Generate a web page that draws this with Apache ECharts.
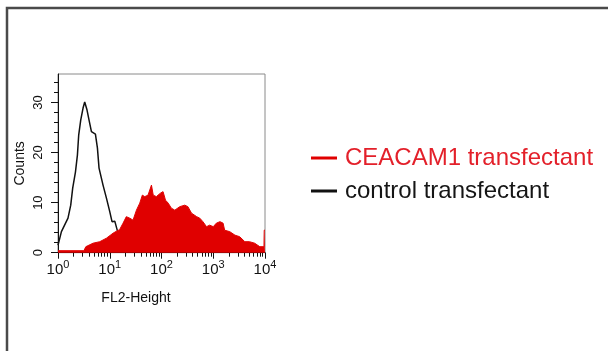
<!DOCTYPE html>
<html>
<head>
<meta charset="utf-8">
<script src="https://cdn.jsdelivr.net/npm/echarts@6/dist/echarts.min.js"></script>
<style>
html,body{margin:0;padding:0;background:#fff;}
#chart{width:608px;height:351px;}
</style>
</head>
<body>
<div id="chart"></div>
<script>
// log10(FL2-Height) positions and counts
var controlX = [0, 0.066, 0.193, 0.246, 0.284, 0.337, 0.375, 0.40, 0.439, 0.484, 0.516, 0.561, 0.60, 0.646, 0.723, 0.762, 0.793, 0.87, 0.936, 1.0, 1.044, 1.097, 1.155, 1.22, 1.3];
var controlY = [1.5, 4.2, 6.9, 9.5, 12.9, 16.1, 19.5, 23.5, 26.5, 28.9, 30.1, 28.5, 26.5, 24.2, 23.7, 20.9, 16.9, 13.5, 10.9, 8.2, 6.2, 6.3, 4.1, 2.0, 0.5];

var ceacamX = [0, 0.5, 0.538, 0.677, 0.807, 0.936, 1.064, 1.13, 1.19, 1.257, 1.32, 1.387, 1.45, 1.516, 1.58, 1.63, 1.677, 1.74, 1.806, 1.84, 1.90, 1.98, 2.03, 2.077, 2.13, 2.19, 2.257, 2.354, 2.45, 2.51, 2.58, 2.61, 2.68, 2.74, 2.80, 2.87, 2.93, 3.0, 3.06, 3.13, 3.19, 3.22, 3.32, 3.42, 3.51, 3.61, 3.70, 3.80, 3.90, 3.98, 3.985, 4.0];
var ceacamY = [0.4, 0.4, 1.2, 1.9, 2.2, 2.9, 3.9, 4.3, 4.6, 5.9, 7.2, 6.9, 6.5, 8.5, 9.9, 11.5, 11.2, 11.5, 13.5, 11.5, 11.2, 11.9, 12.2, 10.5, 9.9, 8.9, 8.5, 9.2, 9.5, 9.2, 7.9, 7.9, 7.2, 6.9, 6.2, 5.2, 5.5, 5.2, 5.9, 6.2, 5.9, 4.5, 4.2, 3.5, 3.2, 2.2, 2.2, 1.9, 1.2, 1.2, 4.5, 4.5];

var seriesNames = ['CEACAM1 transfectant', 'control transfectant'];
var xTickExponents = ['0', '1', '2', '3', '4'];
var xMajorTicks = [0, 1, 2, 3, 4];
var yTickLabels = [0, 10, 20, 30];
var yMinorTicks = [2, 4, 6, 8, 12, 14, 16, 18, 22, 24, 26, 28, 32, 34];

var xMinorTicks = [];
for (var d = 0; d < 4; d++) {
  for (var k = 2; k <= 9; k++) xMinorTicks.push(d + Math.log10(k));
}

function pairs(xs, ys) { return xs.map(function (x, i) { return [x, ys[i]]; }); }

var FONT = 'Liberation Sans, Arial, sans-serif';
var chart = echarts.init(document.getElementById('chart'), null, {renderer: 'canvas'});
chart.setOption({
  animation: false,
  backgroundColor: '#fff',
  textStyle: {fontFamily: FONT},
  grid: {left: 58, right: 343, top: 74, bottom: 98.3, show: true, borderColor: '#8a8a8a', borderWidth: 1, backgroundColor: 'transparent'},
  graphic: [{
    type: 'rect', silent: true, z: 100,
    shape: {x: 7, y: 8, width: 640, height: 380},
    style: {fill: 'none', stroke: '#4a4a4a', lineWidth: 2.5}
  }],
  legend: {
    orient: 'vertical', left: 311, top: 146, padding: 0,
    itemWidth: 26, itemHeight: 3, itemGap: 9, icon: 'rect',
    textStyle: {fontSize: 24, fontFamily: FONT, padding: [0, 0, 0, 3]},
    data: [
      {name: seriesNames[0], textStyle: {color: '#e3202a'}},
      {name: seriesNames[1], textStyle: {color: '#151515'}}
    ]
  },
  xAxis: [{
    type: 'value', min: 0, max: 4, interval: 1,
    position: 'bottom',
    name: 'FL2-Height', nameLocation: 'middle', nameGap: 38,
    nameTextStyle: {color: '#111', fontSize: 14, fontFamily: FONT, padding: [0, 51, 0, 0]},
    axisLine: {show: true, onZero: false, lineStyle: {color: '#111', width: 1}},
    axisTick: {show: true, inside: false, length: 6, customValues: xMajorTicks, lineStyle: {color: '#111'}},
    splitLine: {show: false},
    axisLabel: {
      show: true, margin: 7, customValues: xMajorTicks,
      formatter: function (v) { return '{b|10}{s|' + xTickExponents[Math.round(v)] + '}'; },
      rich: {
        b: {fontSize: 15, color: '#111', fontFamily: FONT},
        s: {fontSize: 11, color: '#111', fontFamily: FONT, padding: [0, 0, 9, 0]}
      }
    }
  }, {
    type: 'value', min: 0, max: 4, position: 'bottom',
    axisLine: {show: false},
    axisTick: {show: true, inside: false, length: 4, customValues: xMinorTicks, lineStyle: {color: '#111'}},
    axisLabel: {show: false}, splitLine: {show: false}
  }],
  yAxis: [{
    type: 'value', min: 0, max: 35.7,
    position: 'left',
    name: 'Counts', nameLocation: 'middle', nameGap: 31, nameRotate: 90,
    nameTextStyle: {color: '#111', fontSize: 14, fontFamily: FONT},
    axisLine: {show: true, onZero: false, lineStyle: {color: '#111', width: 1}},
    axisTick: {show: true, inside: false, length: 7, customValues: yTickLabels, lineStyle: {color: '#111'}},
    splitLine: {show: false},
    axisLabel: {show: true, rotate: 90, margin: 13, customValues: yTickLabels, color: '#111', fontSize: 13, fontFamily: FONT}
  }, {
    type: 'value', min: 0, max: 35.7, position: 'left',
    axisLine: {show: false},
    axisTick: {show: true, inside: false, length: 4, customValues: yMinorTicks, lineStyle: {color: '#111'}},
    axisLabel: {show: false}, splitLine: {show: false}
  }],
  series: [{
    name: seriesNames[1], type: 'line', xAxisIndex: 0, yAxisIndex: 0,
    data: pairs(controlX, controlY), showSymbol: false, symbol: 'none',
    lineStyle: {color: '#111', width: 1.5}, itemStyle: {color: '#111'}, z: 2
  }, {
    name: seriesNames[0], type: 'line', xAxisIndex: 0, yAxisIndex: 0,
    data: pairs(ceacamX, ceacamY), showSymbol: false, symbol: 'none',
    lineStyle: {color: '#e00000', width: 1}, itemStyle: {color: '#e00000'},
    areaStyle: {color: '#e00000', opacity: 1}, z: 3
  }]
});
</script>
</body>
</html>
